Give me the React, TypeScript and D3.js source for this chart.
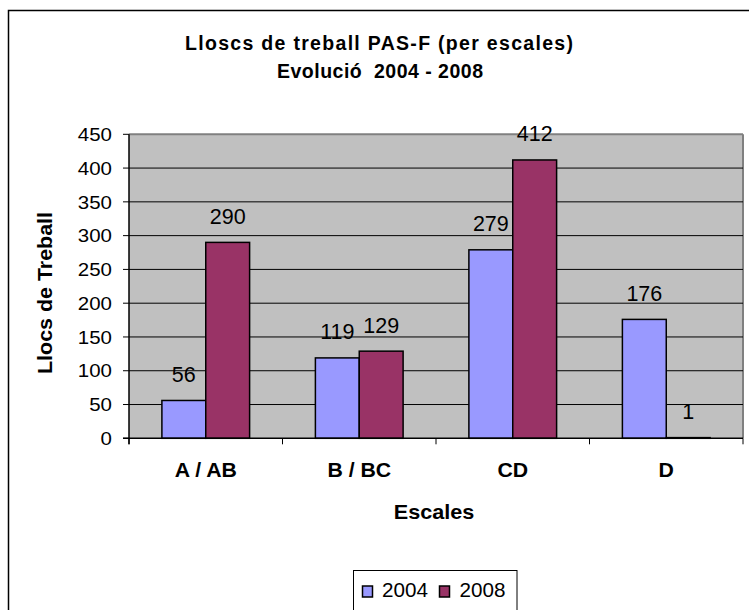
import React from "react";
import * as d3 from "d3";

const categories = ["A / AB", "B / BC", "CD", "D"];
const seriesNames = ["2004", "2008"];
const values2004 = [56, 119, 279, 176];
const values2008 = [290, 129, 412, 1];
const yTickValues = [0, 50, 100, 150, 200, 250, 300, 350, 400, 450];
const titleLines = ["Lloscs de treball PAS-F (per escales)", "Evolució  2004 - 2008"];
const xAxisTitle = "Escales";
const yAxisTitle = "Llocs de Treball";

const colors = ["#9999FF", "#993366"];
const FONT = "'Liberation Sans', Arial, Helvetica, sans-serif";

const W = 749;
const H = 610;
const plot = { left: 129, right: 743, top: 134.3, bottom: 438.3 };

function SText({ x, y, sx = 1, anchor = "middle", size, bold = false, children, rotate = 0, textLength }: any) {
  return (
    <text
      transform={`translate(${x},${y}) rotate(${rotate}) scale(${sx},1)`}
      textAnchor={anchor}
      fontFamily={FONT}
      fontSize={size}
      fontWeight={bold ? "bold" : "normal"}
      fill="#000"
      style={{ whiteSpace: "pre" }}
      textLength={textLength}
      lengthAdjust={textLength ? "spacing" : undefined}
    >
      {children}
    </text>
  );
}

export default function App() {
  const x = d3.scaleBand<string>().domain(categories).range([plot.left, plot.right]).paddingInner(0).paddingOuter(0);
  const xs = d3.scaleBand<string>().domain(seriesNames).range([0, x.bandwidth()]).paddingInner(0).paddingOuter(0.75);
  const y = d3.scaleLinear().domain([0, 450]).range([plot.bottom, plot.top]);
  const series = [values2004, values2008];
  const boundaries = categories.map((c) => x(c) as number).concat([plot.right]);

  return (
    <svg width={W} height={H} style={{ position: "absolute", left: 0, top: 0, background: "#fff" }}>
      {/* outer chart border */}
      <rect x={8.5} y={10.5} width={820} height={700} fill="#fff" stroke="#000" strokeWidth={1.5} />

      {/* title */}
      <SText x={379} y={50} size={19.5} bold textLength={388}>{titleLines[0]}</SText>
      <SText x={380} y={78} size={19.5} bold textLength={206}>{titleLines[1]}</SText>

      {/* plot area */}
      <rect x={plot.left} y={plot.top} width={plot.right - plot.left} height={plot.bottom - plot.top} fill="#C0C0C0" />
      <line x1={plot.left} x2={plot.right} y1={plot.top} y2={plot.top} stroke="#808080" strokeWidth={2} />
      <line x1={plot.right} x2={plot.right} y1={plot.top} y2={plot.bottom} stroke="#808080" strokeWidth={2} />

      {/* gridlines */}
      {yTickValues.filter((v) => v > 0 && v < 450).map((v) => (
        <line key={"g" + v} x1={plot.left} x2={plot.right} y1={y(v)} y2={y(v)} stroke="#000" strokeWidth={1} />
      ))}

      {/* bars */}
      {series.map((vals, si) =>
        categories.map((c, ci) => {
          const bx = (x(c) as number) + (xs(seriesNames[si]) as number);
          const by = y(vals[ci]);
          return (
            <rect
              key={`b${si}-${ci}`}
              x={bx}
              y={by}
              width={xs.bandwidth()}
              height={plot.bottom - by}
              fill={colors[si]}
              stroke="#000"
              strokeWidth={1.5}
            />
          );
        })
      )}

      {/* axes */}
      <line x1={plot.left} x2={plot.left} y1={plot.top} y2={plot.bottom + 6} stroke="#000" strokeWidth={1.5} />
      <line x1={plot.left - 6} x2={plot.right} y1={plot.bottom} y2={plot.bottom} stroke="#000" strokeWidth={1.5} />
      {yTickValues.map((v) => (
        <g key={"t" + v}>
          <line x1={plot.left - 6} x2={plot.left} y1={y(v)} y2={y(v)} stroke="#000" strokeWidth={1} />
          <SText x={112} y={y(v) + 6.7} size={18.6} sx={1.1} anchor="end">{String(v)}</SText>
        </g>
      ))}
      {boundaries.map((bx, i) => (
        <line key={"xt" + i} x1={bx} x2={bx} y1={plot.bottom} y2={plot.bottom + 6} stroke="#000" strokeWidth={1} />
      ))}

      {/* data labels */}
      {series.map((vals, si) =>
        categories.map((c, ci) => {
          const cx = (x(c) as number) + (xs(seriesNames[si]) as number) + xs.bandwidth() / 2;
          return (
            <SText key={`l${si}-${ci}`} x={cx} y={y(vals[ci]) - 18.5} size={21.5}>
              {String(vals[ci])}
            </SText>
          );
        })
      )}

      {/* category labels */}
      {categories.map((c) => (
        <SText key={"c" + c} x={(x(c) as number) + x.bandwidth() / 2} y={477} size={19.5} bold sx={1.09}>
          {c}
        </SText>
      ))}

      {/* axis titles */}
      <SText x={434} y={519} size={19.5} bold sx={1.11}>{xAxisTitle}</SText>
      <SText x={52} y={293} size={19.5} bold sx={1.1} rotate={-90}>{yAxisTitle}</SText>

      {/* legend */}
      <rect x={353.5} y={570.5} width={163.5} height={60} fill="#fff" stroke="#000" strokeWidth={1} />
      {seriesNames.map((s, i) => (
        <g key={"lg" + s}>
          <rect x={362.5 + i * 77} y={586} width={10} height={11} fill={colors[i]} stroke="#000" strokeWidth={1.5} />
          <SText x={382 + i * 77.6} y={597} size={19.5} sx={1.06} anchor="start">{s}</SText>
        </g>
      ))}
    </svg>
  );
}
